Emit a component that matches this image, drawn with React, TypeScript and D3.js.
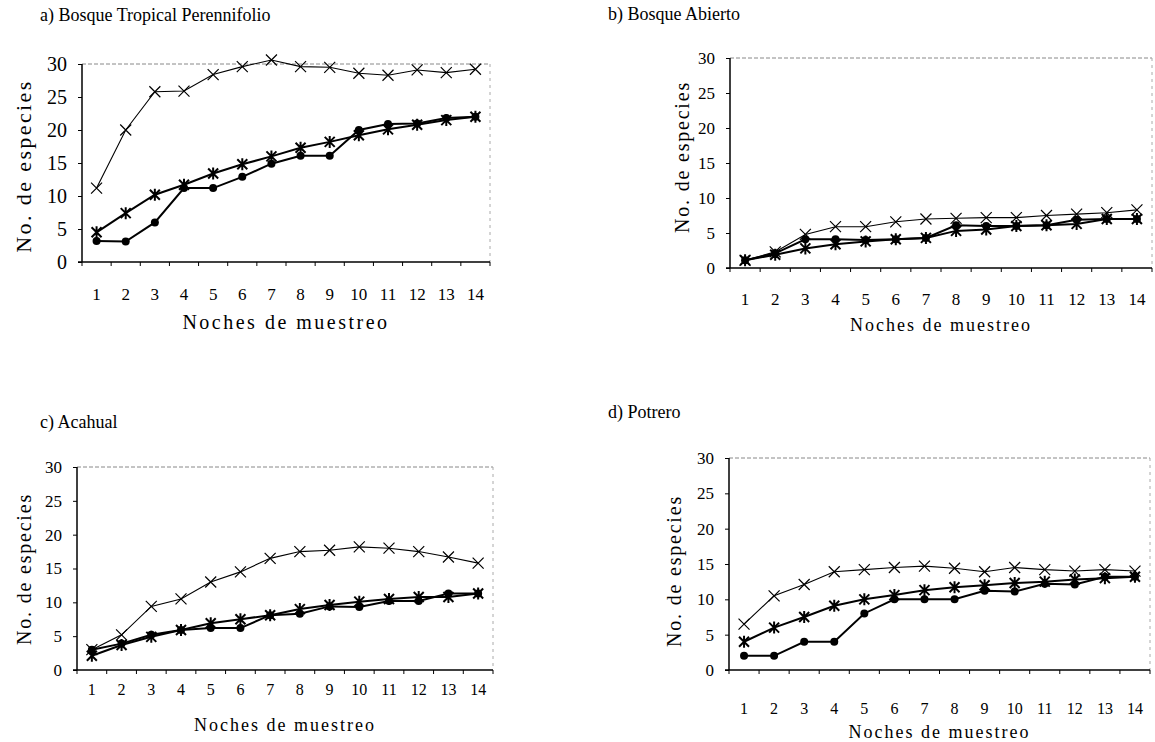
import React, { useEffect, useRef } from 'react';
import * as d3 from 'd3';

// nights of sampling (x categories)
const noches = [1, 2, 3, 4, 5, 6, 7, 8, 9, 10, 11, 12, 13, 14];
const yTicks = [0, 5, 10, 15, 20, 25, 30];

// a) Bosque Tropical Perennifolio
const aCruz = [11.2, 20, 25.8, 25.9, 28.4, 29.6, 30.6, 29.6, 29.5, 28.6, 28.3, 29.1, 28.7, 29.2];
const aAsterisco = [4.5, 7.4, 10.2, 11.7, 13.4, 14.8, 16.0, 17.3, 18.2, 19.2, 20.1, 20.8, 21.5, 22.0];
const aPunto = [3.2, 3.1, 6.0, 11.2, 11.2, 12.9, 14.9, 16.1, 16.1, 20.0, 20.9, 21.0, 21.8, 22.0];

// b) Bosque Abierto
const bCruz = [1.1, 2.3, 4.8, 5.9, 5.9, 6.6, 7.0, 7.1, 7.2, 7.2, 7.5, 7.7, 7.9, 8.3];
const bAsterisco = [1.1, 1.9, 2.8, 3.4, 3.8, 4.1, 4.3, 5.3, 5.5, 6.0, 6.1, 6.3, 7.0, 7.0];
const bPunto = [1.1, 2.1, 4.1, 4.1, 4.0, 4.1, 4.3, 6.1, 6.0, 6.0, 6.1, 6.9, 7.0, 7.0];

// c) Acahual
const cCruz = [3.0, 5.2, 9.4, 10.5, 13.0, 14.5, 16.5, 17.5, 17.7, 18.2, 18.0, 17.5, 16.7, 15.8];
const cAsterisco = [2.1, 3.7, 4.9, 5.9, 6.9, 7.5, 8.1, 9.0, 9.6, 10.1, 10.5, 10.8, 10.8, 11.3];
const cPunto = [3.0, 3.9, 5.2, 5.9, 6.2, 6.2, 8.1, 8.3, 9.4, 9.3, 10.2, 10.2, 11.3, 11.3];

// d) Potrero
const dCruz = [6.5, 10.5, 12.1, 13.9, 14.2, 14.5, 14.7, 14.4, 13.9, 14.5, 14.2, 14.0, 14.2, 14.0];
const dAsterisco = [4.0, 6.0, 7.5, 9.1, 10.0, 10.6, 11.3, 11.7, 12.0, 12.3, 12.5, 12.8, 13.0, 13.2];
const dPunto = [2.0, 2.0, 4.0, 4.0, 8.0, 10.0, 10.0, 10.0, 11.2, 11.1, 12.2, 12.1, 13.2, 13.2];

const FONT = '"Liberation Serif", "DejaVu Serif", serif';

const panels = [
  {
    title: 'a) Bosque Tropical Perennifolio', titleX: 40, titleY: 21,
    left: 82, right: 490, top: 64, bottom: 262,
    cruz: aCruz, asterisco: aAsterisco, punto: aPunto,
    yFont: 20, xFont: 17, yTitleFont: 22, yTitleSpacing: 2.4, xTitleFont: 20, xTitleSpacing: 2.5,
    yTitleX: 23, yTitleY: 166, xLabY: 300, xTitleY: 329,
  },
  {
    title: 'b) Bosque Abierto', titleX: 608, titleY: 20,
    left: 730, right: 1152, top: 58, bottom: 268,
    cruz: bCruz, asterisco: bAsterisco, punto: bPunto,
    yFont: 17, xFont: 17, yTitleFont: 20, yTitleSpacing: 1.8, xTitleFont: 18, xTitleSpacing: 2,
    yTitleX: 682, yTitleY: 157, xLabY: 305, xTitleY: 331,
  },
  {
    title: 'c) Acahual', titleX: 40, titleY: 428,
    left: 77, right: 493, top: 467, bottom: 670,
    cruz: cCruz, asterisco: cAsterisco, punto: cPunto,
    yFont: 17, xFont: 16, yTitleFont: 20, yTitleSpacing: 1.8, xTitleFont: 18, xTitleSpacing: 2,
    yTitleX: 24, yTitleY: 569, xLabY: 695, xTitleY: 731,
  },
  {
    title: 'd) Potrero', titleX: 608, titleY: 418,
    left: 729, right: 1150, top: 458, bottom: 670,
    cruz: dCruz, asterisco: dAsterisco, punto: dPunto,
    yFont: 17, xFont: 16, yTitleFont: 20, yTitleSpacing: 1.8, xTitleFont: 18, xTitleSpacing: 2,
    yTitleX: 674, yTitleY: 571, xLabY: 714, xTitleY: 738,
  },
];

function drawPanel(svg: any, p: any) {
  const x = d3.scaleBand<number>().domain(noches).range([p.left, p.right]);
  const cx = (d: number) => (x(d) as number) + x.bandwidth() / 2;
  const y = d3.scaleLinear().domain([0, 30]).range([p.bottom, p.top]);

  const g = svg.append('g');

  g.append('text')
    .attr('x', p.titleX).attr('y', p.titleY)
    .attr('font-size', 18).attr('font-family', FONT)
    .text(p.title);

  // frame: dotted top and right, solid left and bottom
  g.append('line')
    .attr('x1', p.left).attr('x2', p.right).attr('y1', p.top).attr('y2', p.top)
    .attr('stroke', '#888').attr('stroke-dasharray', '4,2');
  g.append('line')
    .attr('x1', p.right).attr('x2', p.right).attr('y1', p.top).attr('y2', p.bottom)
    .attr('stroke', '#aaa').attr('stroke-dasharray', '3,4');

  // y axis
  const yAxis = g.append('g')
    .attr('transform', `translate(${p.left},0)`)
    .call(d3.axisLeft(y).tickValues(yTicks).tickSize(4).tickPadding(11));
  yAxis.select('.domain').attr('stroke', '#000').attr('stroke-width', 1.5).attr('d', `M0,${p.top}V${p.bottom}`);
  yAxis.selectAll('text').attr('font-size', p.yFont).attr('font-family', FONT).attr('fill', '#000');

  // x axis: ticks between categories
  g.append('line')
    .attr('x1', p.left - 4).attr('x2', p.right).attr('y1', p.bottom).attr('y2', p.bottom)
    .attr('stroke', '#000').attr('stroke-width', 1.3);
  g.selectAll('.xtick')
    .data(noches.concat([15]))
    .enter().append('line')
    .attr('x1', (d: number) => p.left + (d - 1) * x.bandwidth())
    .attr('x2', (d: number) => p.left + (d - 1) * x.bandwidth())
    .attr('y1', p.bottom).attr('y2', p.bottom + 4)
    .attr('stroke', '#000');
  g.selectAll('.xlab')
    .data(noches)
    .enter().append('text')
    .attr('x', (d: number) => cx(d)).attr('y', p.xLabY)
    .attr('text-anchor', 'middle')
    .attr('font-size', p.xFont).attr('font-family', FONT)
    .text((d: number) => d);

  g.append('text')
    .attr('x', (p.left + p.right) / 2).attr('y', p.xTitleY)
    .attr('text-anchor', 'middle')
    .attr('font-size', p.xTitleFont).attr('font-family', FONT)
    .attr('letter-spacing', p.xTitleSpacing)
    .text('Noches de muestreo');

  g.append('text')
    .attr('transform', `translate(${p.yTitleX},${p.yTitleY}) rotate(-90)`)
    .attr('text-anchor', 'middle').attr('dominant-baseline', 'central')
    .attr('font-size', p.yTitleFont).attr('font-family', FONT)
    .attr('letter-spacing', p.yTitleSpacing)
    .text('No. de especies');

  const line = d3.line<number>()
    .x((_, i) => cx(noches[i]))
    .y((d) => y(d));

  // thin "x" series
  g.append('path').attr('d', line(p.cruz)).attr('fill', 'none').attr('stroke', '#000').attr('stroke-width', 1.1);
  g.selectAll('.cruz')
    .data(p.cruz)
    .enter().append('path')
    .attr('transform', (d: number, i: number) => `translate(${cx(noches[i])},${y(d)})`)
    .attr('d', 'M-5.5,-5.5L5.5,5.5M-5.5,5.5L5.5,-5.5')
    .attr('stroke', '#000').attr('stroke-width', 1.2).attr('fill', 'none');

  // filled circle series
  g.append('path').attr('d', line(p.punto)).attr('fill', 'none').attr('stroke', '#000').attr('stroke-width', 2);
  g.selectAll('.punto')
    .data(p.punto)
    .enter().append('circle')
    .attr('cx', (d: number, i: number) => cx(noches[i]))
    .attr('cy', (d: number) => y(d))
    .attr('r', 4).attr('fill', '#000');

  // asterisk series
  g.append('path').attr('d', line(p.asterisco)).attr('fill', 'none').attr('stroke', '#000').attr('stroke-width', 2);
  g.selectAll('.asterisco')
    .data(p.asterisco)
    .enter().append('path')
    .attr('transform', (d: number, i: number) => `translate(${cx(noches[i])},${y(d)})`)
    .attr('d', 'M-5,-5L5,5M-5,5L5,-5M0,-6L0,6')
    .attr('stroke', '#000').attr('stroke-width', 2).attr('fill', 'none');
}

export default function App() {
  const ref = useRef<SVGSVGElement>(null);

  useEffect(() => {
    const svg = d3.select(ref.current);
    svg.selectAll('*').remove();
    svg.append('rect').attr('width', 1155).attr('height', 742).attr('fill', '#fff');
    panels.forEach((p) => drawPanel(svg, p));
  }, []);

  return (
    <svg ref={ref} width={1155} height={742}
      style={{ position: 'absolute', left: 0, top: 0, background: '#fff' }} />
  );
}
